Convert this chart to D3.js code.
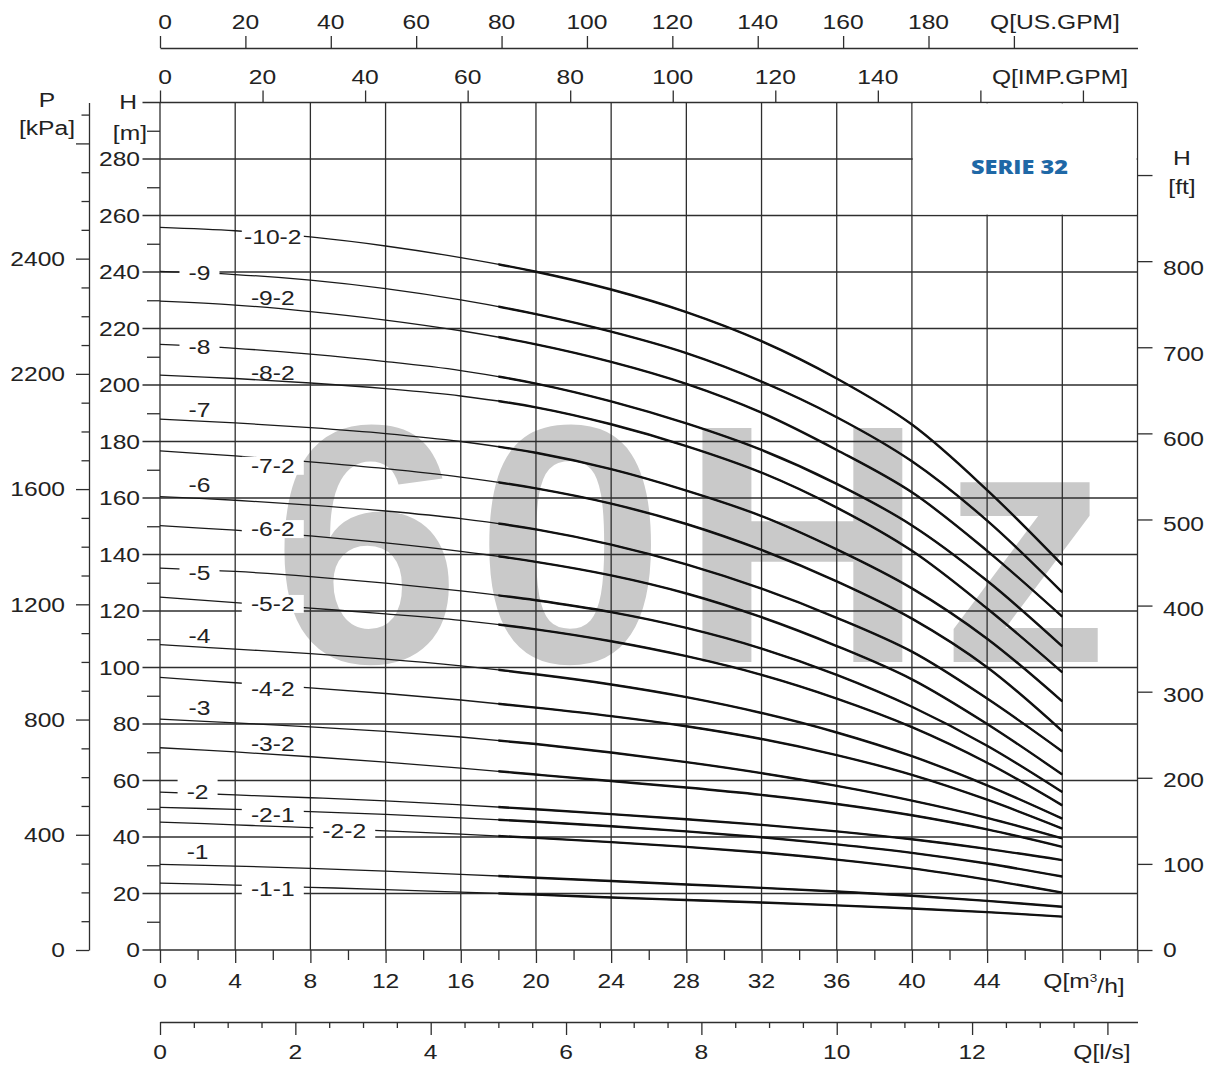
<!DOCTYPE html>
<html><head><meta charset="utf-8">
<script src="https://cdn.jsdelivr.net/npm/d3@7"></script>
<style>
html,body{margin:0;padding:0;background:#fff;}
svg{display:block;}
</style></head><body>
<svg id="chart" width="1216" height="1066"></svg>
<script>
// ---------------- DATA ----------------
const flowQ = [0, 4, 8, 12, 16, 20, 24, 28, 32, 36, 40, 44, 48]; // m3/h
const head_10_2 = [255.8, 254.6, 252.4, 249.2, 245.1, 240.1, 233.8, 225.8, 215.5, 202.3, 186.0, 162.8, 136.3];
const head_9    = [240.2, 239.1, 237.1, 234.1, 230.1, 225.1, 218.9, 211.3, 201.2, 188.6, 173.0, 152.0, 126.6];
const head_9_2  = [229.7, 228.3, 226.0, 223.0, 219.2, 214.4, 208.2, 200.4, 190.2, 177.0, 162.0, 141.3, 118.0];
const head_8    = [214.4, 213.0, 210.9, 208.3, 205.1, 200.5, 194.2, 186.4, 177.0, 165.0, 150.3, 130.7, 107.5];
const head_8_2  = [203.5, 202.3, 200.7, 198.7, 196.1, 192.1, 186.1, 178.4, 169.0, 156.6, 141.3, 120.9, 98.3];
const head_7    = [187.9, 186.6, 184.9, 182.8, 180.0, 176.0, 170.2, 162.6, 153.6, 141.8, 128.0, 110.2, 88.0];
const head_7_2  = [176.7, 174.9, 172.8, 170.4, 167.4, 163.4, 158.0, 150.8, 141.6, 130.5, 117.3, 100.1, 77.5];
const head_6    = [160.5, 159.2, 157.5, 155.4, 152.7, 148.9, 143.5, 136.5, 127.9, 117.6, 105.6, 89.0, 70.3];
const head_6_2  = [150.2, 148.6, 146.6, 144.1, 141.1, 137.4, 132.6, 126.2, 117.8, 107.6, 95.8, 80.0, 62.1];
const head_5    = [135.2, 134.0, 132.2, 129.9, 127.1, 123.8, 119.6, 114.0, 106.7, 97.4, 86.1, 72.3, 55.9];
const head_5_2  = [124.9, 123.0, 121.0, 119.0, 116.7, 113.5, 109.3, 104.0, 97.4, 89.0, 78.9, 66.3, 51.2];
const head_4    = [108.1, 106.5, 104.9, 103.0, 100.6, 97.6, 94.0, 89.5, 83.9, 77.0, 68.6, 58.3, 46.5];
const head_4_2  = [96.5, 94.6, 92.8, 90.8, 88.5, 85.8, 82.8, 79.2, 74.7, 69.0, 62.0, 53.2, 43.0];
const head_3    = [81.7, 80.4, 79.0, 77.4, 75.4, 72.9, 69.9, 66.5, 62.6, 58.1, 52.9, 46.8, 39.5];
const head_3_2  = [71.6, 70.1, 68.4, 66.5, 64.4, 62.1, 59.8, 57.5, 54.9, 51.7, 47.7, 42.7, 36.5];
const head_2    = [55.9, 54.9, 53.9, 52.8, 51.4, 49.8, 48.1, 46.3, 44.3, 42.0, 39.2, 35.8, 31.8];
const head_2_1  = [50.5, 49.8, 49.0, 48.0, 46.8, 45.4, 43.8, 42.0, 39.9, 37.4, 34.4, 30.6, 26.0];
const head_2_2  = [45.3, 44.3, 43.3, 42.2, 41.0, 39.7, 38.2, 36.5, 34.5, 32.0, 28.9, 24.9, 20.3];
const head_1    = [30.3, 29.7, 28.9, 27.9, 26.8, 25.6, 24.4, 23.2, 22.0, 20.7, 19.2, 17.4, 15.3];
const head_1_1  = [23.7, 23.0, 22.2, 21.4, 20.5, 19.6, 18.6, 17.7, 16.8, 15.8, 14.7, 13.4, 11.8];

const modelNames = ["-10-2","-9","-9-2","-8","-8-2","-7","-7-2","-6","-6-2","-5","-5-2","-4","-4-2","-3","-3-2","-2","-2-1","-2-2","-1","-1-1"];
const modelHeads = [head_10_2, head_9, head_9_2, head_8, head_8_2, head_7, head_7_2, head_6, head_6_2, head_5, head_5_2, head_4, head_4_2, head_3, head_3_2, head_2, head_2_1, head_2_2, head_1, head_1_1];

// curve label anchors (data coords: Q m3/h, H m) and whether the label cuts the lines
const labelQ     = [6.0, 2.1, 6.0, 2.1, 6.0, 2.1, 6.0, 2.1, 6.0, 2.1, 6.0, 2.1, 6.0, 2.1, 6.0, 2.0, 6.0, 9.8, 2.0, 6.0];
const labelH     = [252.4, 239.6, 230.8, 213.5, 204.4, 191.2, 171.4, 164.6, 149.0, 133.6, 122.5, 111.3, 92.4, 85.8, 72.9, 55.9, 47.8, 42.1, 34.8, 21.6];
const labelBreak = [true, true, false, true, false, false, true, false, true, true, true, false, true, false, false, true, true, true, false, true];

// axis ticks
const qMajorTicks = [0, 4, 8, 12, 16, 20, 24, 28, 32, 36, 40, 44, 48, 52];
const qLabelTicks = [0, 4, 8, 12, 16, 20, 24, 28, 32, 36, 40, 44];
const lsLabelTicks = [0, 2, 4, 6, 8, 10, 12];
const usGpmTicks = [0, 20, 40, 60, 80, 100, 120, 140, 160, 180, 200];
const usGpmLabels = [0, 20, 40, 60, 80, 100, 120, 140, 160, 180];
const impGpmTicks = [0, 20, 40, 60, 80, 100, 120, 140, 160, 180];
const impGpmLabels = [0, 20, 40, 60, 80, 100, 120, 140];
const hGridTicks = [0, 20, 40, 60, 80, 100, 120, 140, 160, 180, 200, 220, 240, 260, 280];
const hLabelTicks = [0, 20, 40, 60, 80, 100, 120, 140, 160, 180, 200, 220, 240, 260, 280];
const pMajorTicks = [0, 400, 800, 1200, 1600, 2000, 2400, 2800];
const pMajorLabels = ["0", "400", "800", "1200", "1600", "2200", "2400", ""];
const ftTicks = [0, 100, 200, 300, 400, 500, 600, 700, 800, 900];
const ftLabels = ["0", "100", "200", "300", "400", "500", "600", "700", "800", ""];

// unit conversions
const LS_PER_M3H = 1 / 3.6, USGPM_PER_M3H = 4.4029, IMPGPM_PER_M3H = 3.6662, FT_PER_M = 3.28084, KPA_PER_M = 9.80665;

// ---------------- CHART ----------------
const svg = d3.select('#chart');
const FONT = '"Liberation Sans", Arial, Helvetica, sans-serif';
const SX = 1.23;
const INK = '#222';
const LINE = '#2e2e2e';

const x = d3.scaleLinear().domain([0, 52]).range([160, 1137.5]);
const y = d3.scaleLinear().domain([0, 300]).range([950, 102.5]);
const xLs = d3.scaleLinear().domain([0, 52 * LS_PER_M3H]).range(x.range());
const xUs = d3.scaleLinear().domain([0, 52 * USGPM_PER_M3H]).range(x.range());
const xImp = d3.scaleLinear().domain([0, 52 * IMPGPM_PER_M3H]).range(x.range());
const yFt = d3.scaleLinear().domain([0, 300 * FT_PER_M]).range(y.range());
const yKpa = d3.scaleLinear().domain([0, 300 * KPA_PER_M]).range(y.range());

function txt(g, px, py, s, anchor, size) {
  size = size || 20;
  return g.append('text')
    .attr('transform', `translate(${px},${py}) scale(${SX},1)`)
    .attr('text-anchor', anchor || 'middle')
    .attr('dy', '0.36em')
    .style('font-family', FONT).style('font-size', size + 'px')
    .attr('fill', INK).text(s);
}
function styleAxis(g, hideDomain) {
  g.selectAll('text').remove();
  g.selectAll('line').attr('stroke', LINE).attr('stroke-width', 1.3);
  g.select('.domain').attr('stroke', LINE).attr('stroke-width', 1.3);
  if (hideDomain) g.select('.domain').remove();
}

// watermark
svg.append('text').attr('x', 272).attr('y', 662).text('60Hz')
  .style('font-family', FONT).style('font-weight', 'bold').style('font-size', '340px')
  .attr('fill', '#c9c9c9').attr('textLength', 838).attr('lengthAdjust', 'spacing');

// grid
const grid = svg.append('g');
grid.selectAll('.vg').data(qMajorTicks.slice(0, -1)).join('line')
  .attr('x1', d => x(d)).attr('x2', d => x(d)).attr('y1', y(300)).attr('y2', y(0))
  .attr('stroke', LINE).attr('stroke-width', 1.3);
grid.append('line').attr('x1', x(52)).attr('x2', x(52)).attr('y1', y(300)).attr('y2', y(0))
  .attr('stroke', LINE).attr('stroke-width', 1.3);
grid.selectAll('.hg').data(hGridTicks.concat([300])).join('line')
  .attr('x1', 142.5).attr('x2', x(52)).attr('y1', d => y(d)).attr('y2', d => y(d))
  .attr('stroke', LINE).attr('stroke-width', 1.3);

// SERIE box
svg.append('rect').attr('x', x(40) + 0.9).attr('y', y(300) + 0.9)
  .attr('width', x(52) - x(40) - 1.8).attr('height', y(260) - y(300) - 1.8).attr('fill', '#fff');
svg.append('text').attr('x', 1019.5).attr('y', 174).attr('text-anchor', 'middle')
  .style('font-family', '"Open Sans", Lato, sans-serif').style('font-weight', '800').style('font-size', '20px')
  .attr('fill', '#1f68a6').attr('textLength', 97).attr('lengthAdjust', 'spacingAndGlyphs').text('SERIE 32');

// curves
const clipId = 'thickClip';
svg.append('clipPath').attr('id', clipId).append('rect')
  .attr('x', x(18)).attr('y', 0).attr('width', x(52) - x(18)).attr('height', 1066);
const lineGen = d3.line().x((d, i) => x(flowQ[i])).y(d => y(d)).curve(d3.curveCatmullRom.alpha(0.5));
const curves = svg.append('g');
modelHeads.forEach(h => {
  curves.append('path').attr('d', lineGen(h)).attr('fill', 'none').attr('stroke', '#1a1a1a').attr('stroke-width', 1.3);
  curves.append('path').attr('d', lineGen(h)).attr('fill', 'none').attr('stroke', '#111').attr('stroke-width', 2.4)
    .attr('clip-path', `url(#${clipId})`);
});

// curve labels
const lab = svg.append('g');
modelNames.forEach((name, i) => {
  const cx = x(labelQ[i]), cy = y(labelH[i]);
  const t = txt(lab, cx, cy, name, 'middle', 20);
  const w = t.node().getComputedTextLength() * SX;
  if (labelBreak[i]) {
    const bw = w < 26 ? 40 : 62;
    const up = w < 26 ? 14 : 9;
    lab.insert('rect', 'text').attr('x', cx - bw / 2).attr('y', cy - up).attr('width', bw).attr('height', up + 9).attr('fill', '#fff');
  }
});

// ---------- axes ----------
// bottom m3/h
const axQ = svg.append('g').attr('transform', `translate(0,${y(0)})`)
  .call(d3.axisBottom(x).tickValues(qMajorTicks).tickSize(13).tickSizeOuter(0));
styleAxis(axQ, true);
const axQm = svg.append('g').attr('transform', `translate(0,${y(0)})`)
  .call(d3.axisBottom(x).tickValues(d3.range(2, 52, 4)).tickSize(10).tickSizeOuter(0));
styleAxis(axQm, true);
qLabelTicks.forEach(v => txt(svg, x(v), 981, String(v)));
{
  const t = svg.append('text').attr('transform', `translate(1084,981) scale(${SX},1)`).attr('text-anchor', 'middle')
    .attr('dy', '0.36em').style('font-family', FONT).style('font-size', '20px').attr('fill', INK);
  t.append('tspan').text('Q[m');
  t.append('tspan').attr('dy', '-0.55em').style('font-size', '11px').text('3');
  t.append('tspan').attr('dy', '0.55em').text('/h]');
}

// bottom l/s
const axLs = svg.append('g').attr('transform', 'translate(0,1022)')
  .call(d3.axisBottom(xLs).tickValues(d3.range(0, 14.01, 2)).tickSize(13).tickSizeOuter(0));
styleAxis(axLs);
const axLsm = svg.append('g').attr('transform', 'translate(0,1022)')
  .call(d3.axisBottom(xLs).tickValues(d3.range(0.5, 14.4, 0.5).filter(v => v % 2 !== 0)).tickSize(6).tickSizeOuter(0));
styleAxis(axLsm, true);
lsLabelTicks.forEach(v => txt(svg, xLs(v), 1052, String(v)));
txt(svg, 1102, 1052, 'Q[l/s]');

// top US gpm
const axUs = svg.append('g').attr('transform', 'translate(0,48)')
  .call(d3.axisTop(xUs).tickValues(usGpmTicks).tickSize(12).tickSizeOuter(0));
styleAxis(axUs);
usGpmLabels.forEach(v => txt(svg, xUs(v) + (v === 0 ? 5 : 0), 22, String(v)));
txt(svg, 1055, 22, 'Q[US.GPM]');

// top IMP gpm
const axImp = svg.append('g').attr('transform', `translate(0,${y(300)})`)
  .call(d3.axisTop(xImp).tickValues(impGpmTicks).tickSize(12).tickSizeOuter(0));
styleAxis(axImp, true);
impGpmLabels.forEach(v => txt(svg, xImp(v) + (v === 0 ? 5 : 0), 77, String(v)));
txt(svg, 1060, 77, 'Q[IMP.GPM]');

// left H axis (minor ticks every 10 m)
const axH = svg.append('g').attr('transform', `translate(${x(0)},0)`)
  .call(d3.axisLeft(y).tickValues(d3.range(10, 300, 20)).tickSize(13).tickSizeOuter(0));
styleAxis(axH, true);
hLabelTicks.forEach(v => txt(svg, 140, y(v), String(v), 'end'));
txt(svg, 137, y(300) - 1, 'H', 'end');
txt(svg, 147, y(290) + 2, '[m]', 'end');

// P axis
const axP = svg.append('g').attr('transform', 'translate(89,0)')
  .call(d3.axisLeft(yKpa).tickValues(d3.range(100, 2901, 100).filter(v => v % 400 !== 0)).tickSize(7.5).tickSizeOuter(0));
styleAxis(axP);
const axPM = svg.append('g').attr('transform', 'translate(89,0)')
  .call(d3.axisLeft(yKpa).tickValues(pMajorTicks).tickSize(13).tickSizeOuter(0));
styleAxis(axPM, true);
pMajorTicks.forEach((v, i) => { if (pMajorLabels[i]) txt(svg, 65, yKpa(v), pMajorLabels[i], 'end'); });
txt(svg, 47, 100, 'P');
txt(svg, 47, 128, '[kPa]');

// right ft axis
const axFt = svg.append('g').attr('transform', `translate(${x(52)},0)`)
  .call(d3.axisRight(yFt).tickValues(ftTicks).tickSize(15).tickSizeOuter(0));
styleAxis(axFt, true);
ftTicks.forEach((v, i) => { if (ftLabels[i]) txt(svg, 1163, yFt(v) + 7 * v / 800, ftLabels[i], 'start'); });
txt(svg, 1182, 158, 'H');
txt(svg, 1182, 187, '[ft]');
</script>
</body></html>
